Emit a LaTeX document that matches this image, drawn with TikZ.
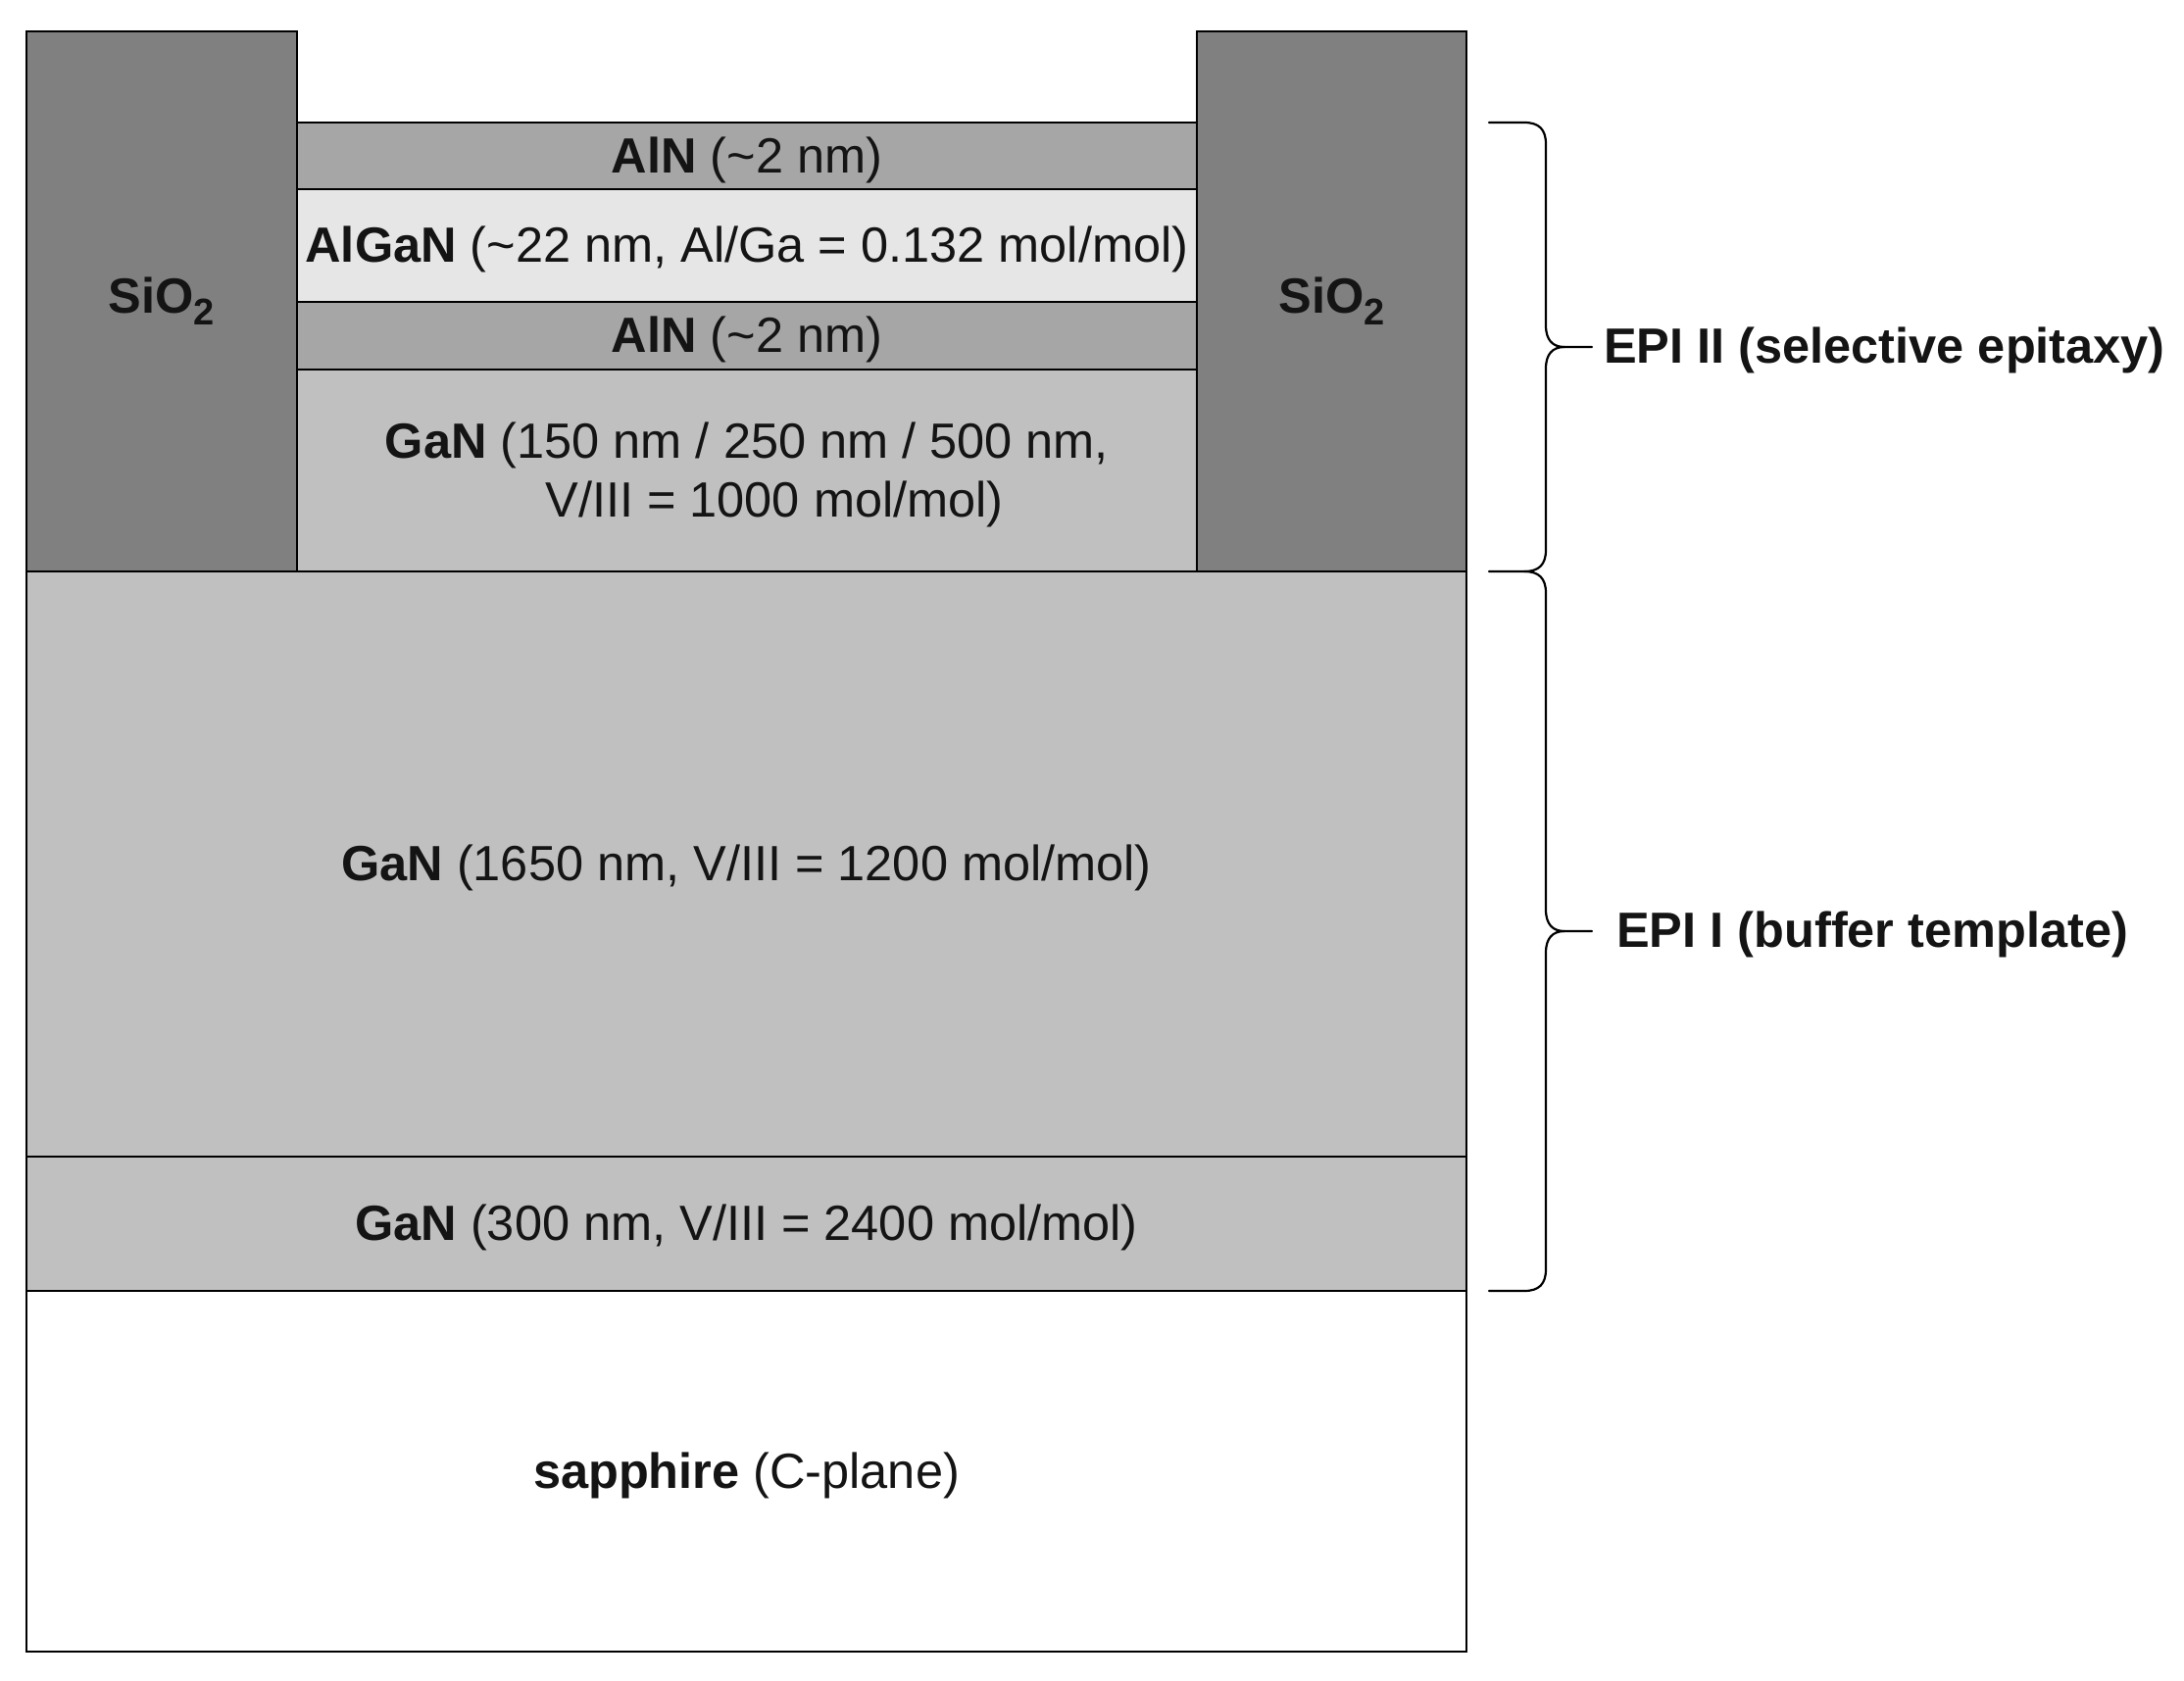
\documentclass[tikz,border=0pt]{standalone}
\usepackage{fontspec}
\setmainfont{Liberation Sans}
\newcommand{\fs}{\fontsize{50.5}{60}\selectfont}
\newcommand{\subtwo}{\raisebox{-0.24em}{\fontsize{38}{40}\selectfont 2}}
\newcommand{\tld}{\textasciitilde}
\tikzset{
  layer/.style={draw=black,line width=2.5pt,inner sep=0pt,outer sep=0pt},
  oxide/.style={layer,fill=oxgray},
  aln/.style={layer,fill=algray},
  algan/.style={layer,fill=aggray},
  gan/.style={layer,fill=gagray},
  substrate/.style={layer,fill=white},
  txt/.style={inner sep=0pt,align=center,text=black!92,font=\fs,yshift=-4pt},
  oxtxt/.style={inner sep=0pt,text=black!92,font=\fs},
  brace/.style={draw=black,line width=2.2pt,line cap=round},
  epilabel/.style={inner sep=0pt,anchor=west,text=black!92,font=\fs\bfseries}
}
\definecolor{oxgray}{HTML}{808080}
\definecolor{algray}{HTML}{A6A6A6}
\definecolor{aggray}{HTML}{E6E6E6}
\definecolor{gagray}{HTML}{C0C0C0}
\begin{document}
\begin{tikzpicture}[x=1pt,y=-1pt]
\useasboundingbox (0,0) rectangle (2228,1714);
\fill[white] (0,0) rectangle (2228,1714);
% substrate and buffer
\node[substrate,minimum width=1469pt,minimum height=368pt,label={[txt]center:{\textbf{sapphire} (C-plane)}}] (sapphire) at (761.5,1501) {};
\node[gan,minimum width=1469pt,minimum height=137pt,label={[txt]center:{\textbf{GaN} (300 nm, V/III = 2400 mol/mol)}}] (nuc) at (761.5,1248.5) {};
\node[gan,minimum width=1469pt,minimum height=597pt,label={[txt]center:{\textbf{GaN} (1650 nm, V/III = 1200 mol/mol)}}] (buffer) at (761.5,881.5) {};
% selective epitaxy stack
\node[gan,minimum width=918pt,minimum height=206pt,label={[txt]center:{\textbf{GaN} (150 nm / 250 nm / 500 nm,\\[0pt]\hspace*{56pt}V/III = 1000 mol/mol)}}] (chan) at (762,480) {};
\node[aln,minimum width=918pt,minimum height=69pt,label={[txt]center:{\textbf{AlN} (\tld2 nm)}}] (aln2) at (762,342.5) {};
\node[algan,minimum width=918pt,minimum height=115pt,label={[txt]center:{\textbf{AlGaN} (\tld22 nm, Al/Ga = 0.132 mol/mol)}}] (barrier) at (762,250.5) {};
\node[aln,minimum width=918pt,minimum height=68pt,label={[txt]center:{\textbf{AlN} (\tld2 nm)}}] (aln1) at (762,159) {};
% oxide mask
\node[oxide,minimum width=276pt,minimum height=551pt,label={[oxtxt]center:{\textbf{SiO\subtwo}}}] (oxl) at (165,307.5) {};
\node[oxide,minimum width=275pt,minimum height=551pt,label={[oxtxt]center:{\textbf{SiO\subtwo}}}] (oxr) at (1358.5,307.5) {};
% labels
\node[epilabel] (epi2) at (1636,357) {EPI II (selective epitaxy)};
\node[epilabel] (epi1) at (1649,953) {EPI I (buffer template)};
% braces
\coordinate (b2top) at (1519,125);
\coordinate (b2bot) at (1519,583);
\coordinate (b1bot) at (1519,1317);
\coordinate (tip2) at (1624,354);
\coordinate (tip1) at (1624,950);
\draw[brace] (b2top) -- (1555,125) .. controls (1570,125) and (1577,132) .. (1577,147)
  -- (1577,332) .. controls (1577,347) and (1584,354) .. (1596,354) -- (tip2);
\draw[brace] (1596,354) .. controls (1584,354) and (1577,361) .. (1577,376)
  -- (1577,561) .. controls (1577,576) and (1570,583) .. (1555,583) -- (b2bot);
\draw[brace] (1555,583) .. controls (1570,583) and (1577,590) .. (1577,605)
  -- (1577,928) .. controls (1577,943) and (1584,950) .. (1596,950) -- (tip1);
\draw[brace] (1596,950) .. controls (1584,950) and (1577,957) .. (1577,972)
  -- (1577,1295) .. controls (1577,1310) and (1570,1317) .. (1555,1317) -- (b1bot);
\end{tikzpicture}
\end{document}
